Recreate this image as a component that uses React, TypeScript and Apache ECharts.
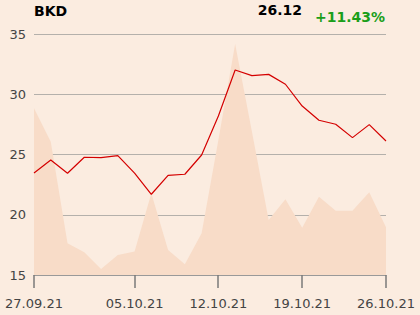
import React, { useEffect, useRef } from "react";
import * as echarts from "echarts";

const dates = [
  "27.09.21", "28.09.21", "29.09.21", "30.09.21", "01.10.21",
  "04.10.21", "05.10.21", "06.10.21", "07.10.21", "08.10.21",
  "11.10.21", "12.10.21", "13.10.21", "14.10.21", "15.10.21",
  "18.10.21", "19.10.21", "20.10.21", "21.10.21", "22.10.21",
  "25.10.21", "26.10.21",
];
const price = [
  23.47, 24.54, 23.44, 24.77, 24.74, 24.9, 23.45, 21.7, 23.27, 23.36,
  24.96, 28.2, 32.01, 31.54, 31.65, 30.83, 29.02, 27.84, 27.51, 26.4,
  27.48, 26.12,
];
const volumeShade = [
  28.83, 26.06, 17.63, 16.88, 15.5, 16.66, 16.94, 21.78, 17.07, 15.89,
  18.46, 26.2, 34.17, 26.9, 19.56, 21.28, 18.93, 21.5, 20.34, 20.34,
  21.86, 18.96,
];
const labelIdx = [0, 6, 11, 16, 21];
const ticker = "BKD";
const lastPrice = "26.12";
const change = "+11.43%";
const yMin = 15;

export default function App() {
  const ref = useRef<HTMLDivElement>(null);
  useEffect(() => {
    if (!ref.current) return;
    const chart = echarts.init(ref.current, undefined, { renderer: "svg" });
    const font = "DejaVu Sans";
    const titles = [
      { id: "t1", type: "text", left: 34, top: 4, style: { text: ticker, font: `bold 14px ${font}`, fill: "#000" } },
      { id: "t2", type: "text", right: 118, top: 3, style: { text: lastPrice, font: `bold 14px ${font}`, fill: "#000" } },
      { id: "t3", type: "text", right: 35, top: 10, style: { text: change, font: `bold 14px ${font}`, fill: "#1a9e1a" } },
    ];
    chart.setOption({
      animation: false,
      backgroundColor: "#fbece0",
      textStyle: { fontFamily: font },
      grid: { left: 34, right: 34, top: 34, bottom: 40, containLabel: false, outerBoundsMode: "none" },
      graphic: titles,
      xAxis: {
        type: "value",
        min: 0,
        max: dates.length - 1,
        axisLine: { show: true, onZero: false, lineStyle: { color: "#999", width: 1 } },
        axisTick: { show: false },
        axisLabel: {
          customValues: labelIdx,
          formatter: (v: number) => dates[Math.round(v)] ?? "",
          color: "#444",
          fontSize: 13,
          margin: 22,
          fontFamily: font,
          showMinLabel: true,
          showMaxLabel: true,
        },
        splitLine: { show: false },
      },
      yAxis: {
        type: "value",
        min: yMin,
        max: 35,
        interval: 5,
        axisLine: { show: false },
        axisTick: { show: false },
        axisLabel: { color: "#444", fontSize: 13, margin: 8, fontFamily: font },
        splitLine: { lineStyle: { color: "#b4b0ab", width: 1 } },
      },
      series: [
        {
          type: "line",
          data: volumeShade.map((v, i) => [i, v]),
          symbol: "none",
          lineStyle: { width: 0 },
          areaStyle: { color: "#f8dcc8", opacity: 1, origin: "start" },
          z: 1,
        },
        {
          type: "line",
          data: price.map((v, i) => [i, v]),
          symbol: "none",
          lineStyle: { color: "#d40000", width: 1.2 },
          z: 3,
        },
      ],
    });
    const ticks = labelIdx.map((idx, k) => {
      const p = chart.convertToPixel({ gridIndex: 0 }, [idx, yMin]) as number[];
      const x = Math.round(p[0]);
      const y = Math.round(p[1]);
      return {
        id: "tick" + k,
        type: "rect",
        shape: { x: x - 0.75, y: y, width: 1.5, height: 13 },
        style: { fill: "#7a7a7a" },
        z: 10,
      };
    });
    chart.setOption({ graphic: [...titles, ...ticks] });
    return () => chart.dispose();
  }, []);
  return <div ref={ref} style={{ width: 420, height: 315, position: "absolute", left: 0, top: 0 }} />;
}
